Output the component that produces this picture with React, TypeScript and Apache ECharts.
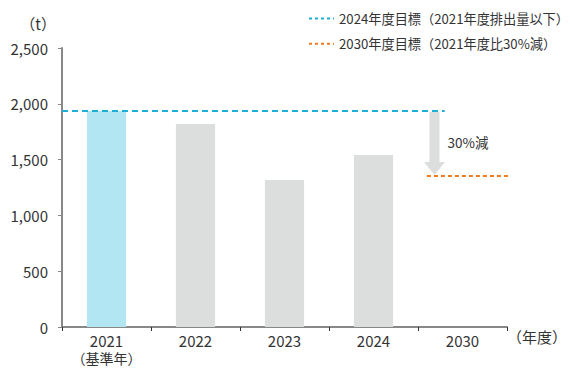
import React, { useEffect, useRef } from "react";
import * as echarts from "echarts";

const categories = ["2021", "2022", "2023", "2024", "2030"];
const emissions = [1935, 1820, 1318, 1542, null];
const target2024 = 1935;
const target2030 = 1354;
const yTicks = [0, 500, 1000, 1500, 2000, 2500];
const legend2024 = "2024年度目標（2021年度排出量以下）";
const legend2030 = "2030年度目標（2021年度比30%減）";
const reductionLabel = "30%減";
const baseYearNote = "（基準年）";

const FONT = "'Noto Sans CJK JP', 'Noto Sans', sans-serif";
const TXT = "#333333";

export default function App() {
  const ref = useRef<HTMLDivElement>(null);
  useEffect(() => {
    const chart = echarts.init(ref.current!, null, { renderer: "svg" });
    chart.setOption({
      animation: false,
      textStyle: { fontFamily: FONT, color: TXT },
      grid: { left: 62, right: 60, top: 48, bottom: 43 },
      legend: {
        orient: "vertical",
        left: 303,
        top: 7,
        itemWidth: 25,
        itemHeight: 12,
        itemGap: 12,
        itemStyle: { opacity: 0 },
        lineStyle: { type: [3, 3], width: 2 },
        textStyle: { fontFamily: FONT, fontSize: 13.2, color: TXT },
        data: [legend2024, legend2030],
      },
      xAxis: [
        {
          type: "category",
          data: categories,
          name: "（年度）",
          nameLocation: "end",
          nameGap: 0,
          nameTextStyle: { fontFamily: FONT, fontSize: 15, color: TXT, align: "left", verticalAlign: "top", padding: [2, 0, 0, 0] },
          axisLine: { lineStyle: { color: "#888888", width: 2 } },
          axisTick: { show: true, length: 4, lineStyle: { color: "#333333", width: 1 } },
          axisLabel: {
            interval: 0,
            fontFamily: FONT,
            color: TXT,
            margin: 5,
            formatter: (v: string) => (v === "2021" ? "{a|" + v + "}\n{b|" + baseYearNote + "}" : "{a|" + v + "}"),
            rich: {
              a: { fontFamily: FONT, fontSize: 15, color: TXT, lineHeight: 17, padding: [0, 0, 1, 0] },
              b: { fontFamily: FONT, fontSize: 14, color: TXT, lineHeight: 17 },
            },
          },
        },
        { type: "value", min: 0, max: 5, show: false },
      ],
      yAxis: {
        type: "value",
        min: 0,
        max: 2500,
        interval: 500,
        name: "（t）",
        nameLocation: "end",
        nameGap: 17,
        nameTextStyle: { fontFamily: FONT, fontSize: 15, color: TXT, align: "right", padding: [0, 6, 0, 0] },
        axisLine: { show: true, lineStyle: { color: "#888888", width: 2 } },
        axisTick: { show: true, length: 4, lineStyle: { color: "#888888", width: 1 } },
        splitLine: { show: false },
        axisLabel: {
          fontFamily: FONT,
          fontSize: 15,
          color: TXT,
          margin: 14,
          formatter: (v: number) => (yTicks.includes(v) ? v.toLocaleString("en-US") : ""),
        },
      },
      series: [
        {
          type: "bar",
          xAxisIndex: 0,
          barWidth: "44%",
          data: emissions.map((v, i) => ({
            value: v,
            itemStyle: { color: i === 0 ? "#b3e6f3" : "#dcdddd" },
          })),
        },
        {
          name: legend2024,
          type: "line",
          xAxisIndex: 1,
          symbol: "none",
          clip: false,
          data: [
            [0, target2024],
            [4.3, target2024],
          ],
          lineStyle: { color: "#1eafd7", width: 2, type: [6, 4] },
          itemStyle: { color: "#1eafd7" },
          z: 5,
        },
        {
          name: legend2030,
          type: "line",
          xAxisIndex: 1,
          symbol: "none",
          clip: false,
          data: [
            [4.1, target2030],
            [5.33, target2030],
          ],
          lineStyle: { color: "#f47a22", width: 2, type: [4, 3] },
          itemStyle: { color: "#f47a22" },
          z: 5,
        },
        {
          type: "custom",
          xAxisIndex: 1,
          clip: false,
          silent: true,
          z: 3,
          data: [[4.185, target2024, target2030]],
          renderItem: (params: any, api: any) => {
            const top = api.coord([api.value(0), api.value(1)]);
            const bot = api.coord([api.value(0), api.value(2)]);
            const cx = top[0];
            const y0 = top[1] + 1;
            const y1 = bot[1] - 1;
            const headH = 13;
            const sw = 5;
            const hw = 10.5;
            return {
              type: "group",
              children: [
                {
                  type: "polygon",
                  shape: {
                    points: [
                      [cx - sw, y0],
                      [cx + sw, y0],
                      [cx + sw, y1 - headH],
                      [cx + hw, y1 - headH],
                      [cx, y1],
                      [cx - hw, y1 - headH],
                      [cx - sw, y1 - headH],
                    ],
                  },
                  style: { fill: "#dcdddd" },
                },
                {
                  type: "text",
                  x: cx + 13,
                  y: (y0 + y1) / 2 - 1,
                  style: {
                    text: reductionLabel,
                    fontFamily: FONT,
                    fontSize: 13.5,
                    fill: TXT,
                    textVerticalAlign: "middle",
                  },
                },
              ],
            };
          },
        },
      ],
    });
    return () => chart.dispose();
  }, []);
  return <div ref={ref} style={{ width: 570, height: 370, position: "absolute", left: 0, top: 0 }} />;
}
